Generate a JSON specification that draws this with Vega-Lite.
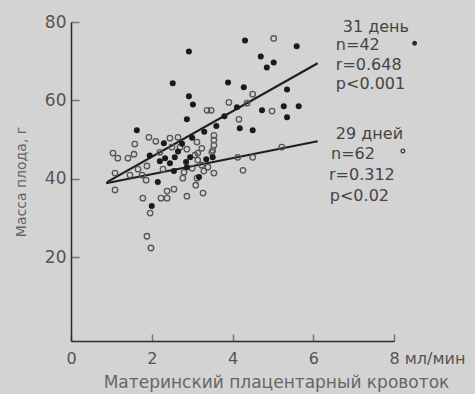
{
  "$schema": "https://vega.github.io/schema/vega-lite/v6.json",
  "width": 323,
  "height": 319,
  "autosize": {"type": "none"},
  "padding": {"left": 71, "top": 22, "right": 81, "bottom": 53},
  "background": "#d3d3d3",
  "config": {
    "view": {"stroke": null},
    "font": "DejaVu Sans",
    "axis": {"grid": false, "labelFont": "DejaVu Sans", "titleFont": "DejaVu Sans", "titleFontWeight": "normal"}
  },
  "datasets": {
    "pts": [
      {"x": 2.92, "y": 72.5, "g": "31"}, {"x": 4.31, "y": 75.3, "g": "31"}, {"x": 5.59, "y": 73.8, "g": "31"},
      {"x": 4.70, "y": 71.2, "g": "31"}, {"x": 5.02, "y": 69.7, "g": "31"}, {"x": 4.85, "y": 68.4, "g": "31"},
      {"x": 2.52, "y": 64.4, "g": "31"}, {"x": 3.89, "y": 64.6, "g": "31"}, {"x": 4.28, "y": 63.4, "g": "31"},
      {"x": 5.35, "y": 62.8, "g": "31"}, {"x": 2.92, "y": 61.1, "g": "31"}, {"x": 3.02, "y": 59.0, "g": "31"},
      {"x": 5.27, "y": 58.5, "g": "31"}, {"x": 5.64, "y": 58.5, "g": "31"}, {"x": 4.73, "y": 57.5, "g": "31"},
      {"x": 5.35, "y": 55.7, "g": "31"}, {"x": 2.87, "y": 55.2, "g": "31"}, {"x": 4.18, "y": 52.9, "g": "31"},
      {"x": 4.50, "y": 52.4, "g": "31"}, {"x": 1.63, "y": 52.4, "g": "31"}, {"x": 2.30, "y": 49.1, "g": "31"},
      {"x": 2.33, "y": 45.3, "g": "31"}, {"x": 2.57, "y": 45.5, "g": "31"}, {"x": 2.85, "y": 44.3, "g": "31"},
      {"x": 2.87, "y": 43.0, "g": "31"}, {"x": 2.15, "y": 39.2, "g": "31"}, {"x": 3.17, "y": 40.5, "g": "31"},
      {"x": 3.51, "y": 45.5, "g": "31"}, {"x": 2.00, "y": 33.1, "g": "31"}, {"x": 4.11, "y": 58.3, "g": "31"},
      {"x": 2.65, "y": 47.0, "g": "31"}, {"x": 2.45, "y": 44.0, "g": "31"}, {"x": 3.00, "y": 50.5, "g": "31"},
      {"x": 3.30, "y": 52.0, "g": "31"}, {"x": 2.75, "y": 49.0, "g": "31"}, {"x": 3.60, "y": 53.5, "g": "31"},
      {"x": 2.20, "y": 44.5, "g": "31"}, {"x": 3.35, "y": 45.0, "g": "31"}, {"x": 2.95, "y": 45.5, "g": "31"},
      {"x": 3.80, "y": 56.0, "g": "31"}, {"x": 2.55, "y": 42.0, "g": "31"}, {"x": 1.95, "y": 46.0, "g": "31"},
      {"x": 5.02, "y": 75.8, "g": "29"}, {"x": 4.50, "y": 61.6, "g": "29"}, {"x": 3.91, "y": 59.5, "g": "29"},
      {"x": 4.36, "y": 59.3, "g": "29"}, {"x": 3.37, "y": 57.5, "g": "29"}, {"x": 3.47, "y": 57.5, "g": "29"},
      {"x": 4.98, "y": 57.3, "g": "29"}, {"x": 4.16, "y": 55.2, "g": "29"}, {"x": 1.93, "y": 50.6, "g": "29"},
      {"x": 2.10, "y": 49.6, "g": "29"}, {"x": 1.58, "y": 48.9, "g": "29"}, {"x": 2.45, "y": 50.4, "g": "29"},
      {"x": 2.65, "y": 50.6, "g": "29"}, {"x": 2.50, "y": 48.1, "g": "29"}, {"x": 2.70, "y": 48.1, "g": "29"},
      {"x": 2.87, "y": 47.6, "g": "29"}, {"x": 3.12, "y": 49.4, "g": "29"}, {"x": 3.24, "y": 47.8, "g": "29"},
      {"x": 3.54, "y": 51.1, "g": "29"}, {"x": 3.54, "y": 49.9, "g": "29"}, {"x": 1.04, "y": 46.6, "g": "29"},
      {"x": 1.16, "y": 45.3, "g": "29"}, {"x": 1.41, "y": 45.3, "g": "29"}, {"x": 1.56, "y": 46.3, "g": "29"},
      {"x": 3.07, "y": 46.1, "g": "29"}, {"x": 3.14, "y": 44.8, "g": "29"}, {"x": 1.88, "y": 43.3, "g": "29"},
      {"x": 1.66, "y": 42.5, "g": "29"}, {"x": 2.28, "y": 42.5, "g": "29"}, {"x": 3.00, "y": 42.7, "g": "29"},
      {"x": 3.24, "y": 43.5, "g": "29"}, {"x": 1.09, "y": 41.5, "g": "29"}, {"x": 1.46, "y": 41.0, "g": "29"},
      {"x": 1.76, "y": 41.0, "g": "29"}, {"x": 2.77, "y": 40.2, "g": "29"}, {"x": 3.12, "y": 40.2, "g": "29"},
      {"x": 1.86, "y": 39.7, "g": "29"}, {"x": 1.09, "y": 37.2, "g": "29"}, {"x": 1.78, "y": 35.1, "g": "29"},
      {"x": 1.96, "y": 31.3, "g": "29"}, {"x": 1.88, "y": 25.4, "g": "29"}, {"x": 1.98, "y": 22.4, "g": "29"},
      {"x": 2.23, "y": 35.1, "g": "29"}, {"x": 2.38, "y": 35.1, "g": "29"}, {"x": 2.38, "y": 36.9, "g": "29"},
      {"x": 2.55, "y": 37.4, "g": "29"}, {"x": 2.87, "y": 35.6, "g": "29"}, {"x": 3.09, "y": 38.4, "g": "29"},
      {"x": 3.27, "y": 36.4, "g": "29"}, {"x": 3.54, "y": 41.5, "g": "29"}, {"x": 4.26, "y": 42.2, "g": "29"},
      {"x": 4.13, "y": 45.5, "g": "29"}, {"x": 4.50, "y": 45.5, "g": "29"}, {"x": 5.22, "y": 48.1, "g": "29"},
      {"x": 3.49, "y": 46.8, "g": "29"}, {"x": 3.14, "y": 46.6, "g": "29"}, {"x": 2.80, "y": 41.7, "g": "29"},
      {"x": 3.39, "y": 43.0, "g": "29"}, {"x": 3.51, "y": 47.3, "g": "29"}, {"x": 3.29, "y": 42.0, "g": "29"},
      {"x": 3.54, "y": 48.6, "g": "29"}, {"x": 2.20, "y": 46.8, "g": "29"}
    ],
    "fit": [
      {"g": "31", "x": 0.89, "y": 39.2}, {"g": "31", "x": 6.11, "y": 69.5},
      {"g": "29", "x": 0.87, "y": 38.9}, {"g": "29", "x": 6.11, "y": 49.6}
    ],
    "notes": [
      {"x": 6.73, "y": 78.7, "label": "31 день"},
      {"x": 6.56, "y": 74.1, "label": "n=42"},
      {"x": 6.56, "y": 69.0, "label": "r=0.648"},
      {"x": 6.56, "y": 64.2, "label": "p<0.001"},
      {"x": 6.56, "y": 51.5, "label": "29 дней"},
      {"x": 6.44, "y": 46.4, "label": "n=62"},
      {"x": 6.39, "y": 41.0, "label": "r=0.312"},
      {"x": 6.41, "y": 35.7, "label": "p<0.02"}
    ],
    "keys": [
      {"x": 8.51, "y": 74.6, "g": "31"},
      {"x": 8.22, "y": 47.1, "g": "29"}
    ]
  },
  "layer": [
    {
      "data": {"name": "fit"},
      "mark": {"type": "line", "color": "#1e1e1e", "strokeWidth": 2.2},
      "encoding": {
        "x": {"field": "x", "type": "quantitative", "scale": {"domain": [0, 8], "nice": false},
          "axis": {"values": [0, 2, 4, 6, 8], "title": "Материнский плацентарный кровоток",
            "labelExpr": "datum.value == 8 ? '8 мл/мин' : datum.label",
            "labelAlign": {"condition": {"test": "datum.value == 8", "value": "left"}, "value": "center"},
            "labelOffset": {"condition": {"test": "datum.value == 8", "value": -5}, "value": 0},
            "labelFontSize": 16, "labelColor": "#555", "labelPadding": 16,
            "domainColor": "#2a2a2a", "domainWidth": 1.5, "tickColor": "#777", "tickWidth": 1.5, "tickSize": -7,
            "titleFontSize": 17, "titleColor": "#666", "titleX": 205, "titleY": 33, "titleAlign": "center", "titleBaseline": "top"}},
        "y": {"field": "y", "type": "quantitative", "scale": {"domain": [-1.3, 80], "nice": false, "zero": false},
          "axis": {"values": [20, 40, 60, 80], "title": "Масса плода, г",
            "labelFontSize": 17, "labelColor": "#555", "labelPadding": 13,
            "domainColor": "#2a2a2a", "domainWidth": 1.5, "tickColor": "#777", "tickWidth": 1.5, "tickSize": -8,
            "titleFontSize": 14, "titleColor": "#666", "titlePadding": 16}},
        "detail": {"field": "g"}
      }
    },
    {
      "data": {"name": "pts"},
      "transform": [{"filter": "datum.g == '29'"}],
      "mark": {"type": "point", "shape": "circle", "filled": false, "stroke": "#555", "strokeWidth": 1.3, "size": 30, "opacity": 1},
      "encoding": {
        "x": {"field": "x", "type": "quantitative"},
        "y": {"field": "y", "type": "quantitative"}
      }
    },
    {
      "data": {"name": "pts"},
      "transform": [{"filter": "datum.g == '31'"}],
      "mark": {"type": "circle", "color": "#1a1a1a", "size": 36, "opacity": 1},
      "encoding": {
        "x": {"field": "x", "type": "quantitative"},
        "y": {"field": "y", "type": "quantitative"}
      }
    },
    {
      "data": {"name": "keys"},
      "mark": {"type": "point", "shape": "circle", "filled": false, "stroke": "#333", "strokeWidth": 1.2, "size": 14, "opacity": 1},
      "encoding": {
        "x": {"field": "x", "type": "quantitative"},
        "y": {"field": "y", "type": "quantitative"},
        "fill": {"field": "g", "type": "nominal", "scale": {"domain": ["31", "29"], "range": ["#222", "#d3d3d3"]}, "legend": null}
      }
    },
    {
      "data": {"name": "notes"},
      "mark": {"type": "text", "align": "left", "baseline": "middle", "fontSize": 16, "color": "#444", "font": "DejaVu Sans"},
      "encoding": {
        "x": {"field": "x", "type": "quantitative"},
        "y": {"field": "y", "type": "quantitative"},
        "text": {"field": "label"}
      }
    }
  ]
}
